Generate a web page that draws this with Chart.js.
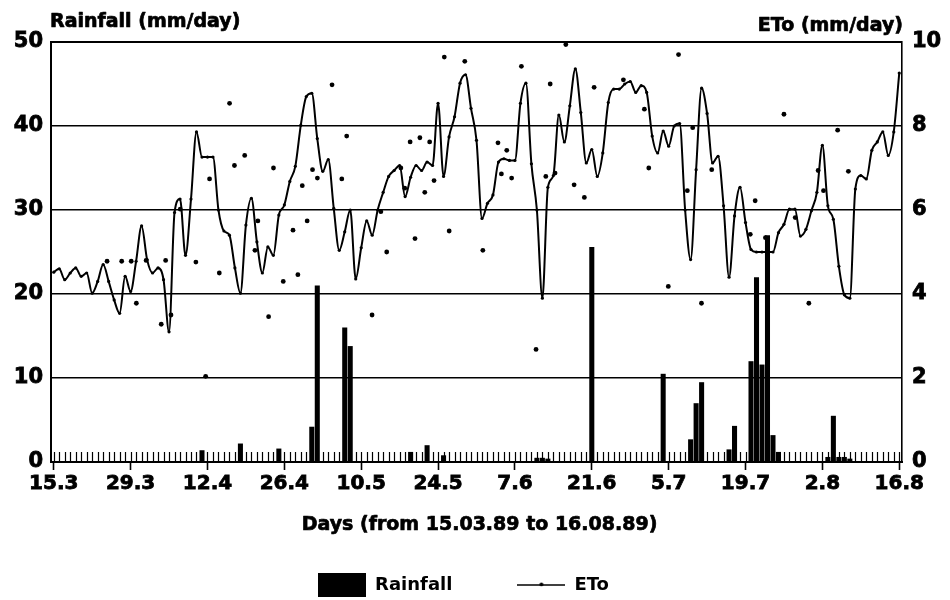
<!DOCTYPE html>
<html>
<head>
<meta charset="utf-8">
<title>Rainfall and ETo, 15.03.89 to 16.08.89</title>
<script src="https://cdn.jsdelivr.net/npm/chart.js@4.4.1/dist/chart.umd.min.js"></script>
<style>
  html, body { margin: 0; padding: 0; background: #ffffff; overflow: hidden; }
  canvas { display: block; }
</style>
</head>
<body>
<canvas id="chart" width="950" height="600"></canvas>
<script>
// Daily rainfall (mm/day, left axis) and reference evapotranspiration
// ETo (mm/day, right axis), 155 days from 15 March to 16 August 1989.

const dayCount = 155;

// x-axis tick labels, one every 14 days
const tickLabels = ['15.3', '29.3', '12.4', '26.4', '10.5', '24.5', '7.6', '21.6', '5.7', '19.7', '2.8', '16.8'];
const tickEvery = 14;

// rainy days: day number (0 = 15.3) and rainfall in mm
const rainDays = [27, 34, 41, 47, 48, 53, 54, 65, 68, 71, 88, 89, 90, 98, 111, 116, 117, 118, 123, 124, 127, 128, 129, 130, 131, 132, 141, 142, 143, 144, 145];
const rainMm   = [1.4, 2.2, 1.6, 4.2, 21.0, 16.0, 13.8, 1.2, 2.0, 0.8, 0.5, 0.5, 0.4, 25.6, 10.5, 2.7, 7.0, 9.5, 1.5, 4.3, 12.0, 22.0, 11.6, 27.0, 3.2, 1.2, 0.6, 5.5, 0.6, 0.6, 0.4];

// ETo curve, one value per day (mm/day)
const etoDaily = [
  4.52, 4.60, 4.34, 4.50, 4.62, 4.42, 4.50, 4.02, 4.30, 4.70,
  4.30, 3.86, 3.54, 4.42, 4.06, 4.78, 5.62, 4.82, 4.50, 4.62,
  4.34, 3.10, 5.94, 6.26, 4.92, 6.26, 7.86, 7.26, 7.26, 7.26,
  6.00, 5.50, 5.40, 4.62, 4.02, 5.64, 6.28, 5.24, 4.50, 5.12,
  4.92, 5.88, 6.12, 6.68, 7.04, 8.02, 8.70, 8.78, 7.70, 6.92,
  7.20, 6.04, 5.04, 5.48, 6.00, 4.36, 5.10, 5.74, 5.40, 6.00,
  6.42, 6.80, 6.94, 7.06, 6.32, 6.78, 7.06, 6.94, 7.14, 7.06,
  8.54, 6.80, 7.74, 8.22, 9.02, 9.22, 8.42, 7.66, 5.80, 6.16,
  6.36, 7.14, 7.22, 7.18, 7.18, 8.54, 9.02, 7.10, 6.00, 3.90,
  6.54, 6.82, 8.26, 7.62, 8.48, 9.36, 8.32, 7.12, 7.44, 6.80,
  7.36, 8.56, 8.88, 8.88, 9.00, 9.06, 8.80, 8.96, 8.80, 7.76,
  7.36, 7.88, 7.52, 8.00, 8.06, 6.00, 4.82, 6.96, 8.90, 8.30,
  7.12, 7.28, 6.10, 4.40, 5.86, 6.54, 5.70, 5.06, 5.00, 5.00,
  5.00, 5.00, 5.46, 5.66, 6.02, 6.02, 5.38, 5.54, 5.98, 6.42,
  7.54, 6.10, 5.78, 4.66, 3.98, 3.90, 6.50, 6.82, 6.74, 7.42,
  7.62, 7.86, 7.30, 7.86, 9.26
];

// single ETo readings shown as loose dots: day position and value (mm/day)
const readingDay = [
  1.3, 4.3, 6.25, 7.3, 9.3, 12.4, 13.3, 14.4, 16.3, 19.5,
  21.5, 22.3, 24.3, 26.4, 27.4, 29.5, 31.6, 32.2, 34.4, 35.4,
  37.4, 39.4, 40.4, 41.3, 42.3, 43.4, 44.4, 47.4, 49.4, 50.4,
  55.6, 57.4, 58.6, 61.5, 62.3, 63.4, 64.4, 65.4, 66.4, 67.4,
  68.3, 70.4, 71.4, 74.6, 78.3, 81.4, 82.1, 83.2, 84.2, 86.2,
  89.2, 91.2, 92.1, 93.1, 95.3, 97.0, 99.1, 101.1, 107.1, 111.4,
  112.3, 116.3, 118.4, 120.2, 121.3, 123.1, 125.2, 133.1, 134.1, 136.2,
  140.0, 142.3, 145.1, 147.0, 148.1, 151.0, 153.2
];
const readingEto = [
  4.78, 4.78, 4.78, 3.78, 4.80, 3.28, 4.80, 3.50, 6.02, 4.76,
  2.04, 6.74, 4.50, 8.54, 7.06, 7.30, 5.04, 5.74, 3.46, 7.00,
  4.30, 5.52, 4.46, 6.58, 5.74, 6.96, 6.76, 8.98, 6.74, 7.76,
  3.50, 5.96, 5.00, 7.00, 6.52, 7.62, 5.32, 7.72, 6.42, 7.62,
  6.70, 9.64, 5.50, 9.54, 5.04, 7.60, 6.86, 7.42, 6.76, 9.42,
  2.68, 6.80, 9.00, 6.88, 9.94, 6.60, 6.30, 8.92, 9.10, 8.40,
  7.00, 4.18, 9.70, 6.46, 7.96, 3.78, 6.96, 5.42, 6.22, 5.34,
  8.28, 5.82, 3.78, 6.94, 6.46, 7.90, 6.92
];

// one category per day, labelled d.m
const categories = [];
for (let i = 0; i < dayCount; i++) {
  const d = new Date(1989, 2, 15 + i);
  categories.push(d.getDate() + '.' + (d.getMonth() + 1));
}

const rainfall = new Array(dayCount).fill(null);
rainDays.forEach((day, k) => { rainfall[day] = rainMm[k]; });

const readings = readingDay.map((day, k) => ({ x: day, y: readingEto[k] }));

const FONT = '"DejaVu Sans", "Liberation Sans", sans-serif';
const INK = '#000000';

// legend symbols: a filled block for rainfall, a marked line for ETo
const rainSwatch = document.createElement('canvas');
rainSwatch.width = 48;
rainSwatch.height = 24;
(() => {
  const c = rainSwatch.getContext('2d');
  c.fillStyle = INK;
  c.fillRect(0, 0, 48, 24);
})();

const etoSwatch = document.createElement('canvas');
etoSwatch.width = 48;
etoSwatch.height = 8;
(() => {
  const c = etoSwatch.getContext('2d');
  c.strokeStyle = INK;
  c.fillStyle = INK;
  c.lineWidth = 1.6;
  c.beginPath();
  c.moveTo(0, 4);
  c.lineTo(48, 4);
  c.stroke();
  c.beginPath();
  c.arc(24, 3.4, 1.9, 0, Math.PI * 2);
  c.fill();
})();

// heavy caption text: fill plus a thin outline
function heavyText(ctx, text, x, y) {
  ctx.fillText(text, x, y);
  ctx.strokeText(text, x, y);
}

// daily tick marks along the baseline and the axis captions
const axisDecor = {
  id: 'axisDecor',
  beforeDatasetsDraw(chart) {
    const { ctx, chartArea } = chart;
    const x = chart.scales.x;
    ctx.save();
    ctx.strokeStyle = INK;
    ctx.lineWidth = 1.2;
    ctx.beginPath();
    for (let i = 0; i < categories.length; i++) {
      const px = Math.round(x.getPixelForValue(i)) + 0.5;
      ctx.moveTo(px, chartArea.bottom);
      ctx.lineTo(px, chartArea.bottom - 10);
    }
    ctx.stroke();
    ctx.restore();
  },
  afterDraw(chart) {
    const { ctx, chartArea } = chart;
    ctx.save();
    ctx.fillStyle = INK;
    ctx.strokeStyle = INK;
    ctx.lineWidth = 0.7;
    ctx.lineJoin = 'round';
    ctx.font = 'bold 19px ' + FONT;
    ctx.textBaseline = 'alphabetic';
    ctx.textAlign = 'left';
    heavyText(ctx, 'Rainfall (mm/day)', chartArea.left - 1, chartArea.top - 15);
    ctx.textAlign = 'right';
    heavyText(ctx, 'ETo (mm/day)', chartArea.right + 1, chartArea.top - 11);
    ctx.textAlign = 'center';
    heavyText(ctx, 'Days (from 15.03.89 to 16.08.89)', (chartArea.left + chartArea.right) / 2 + 3, chartArea.bottom + 68);
    ctx.restore();
  }
};

Chart.defaults.font.family = FONT;
Chart.defaults.font.weight = 'bold';
Chart.defaults.color = INK;

new Chart(document.getElementById('chart'), {
  type: 'bar',
  data: {
    labels: categories,
    datasets: [
      {
        type: 'bar',
        label: 'Rainfall',
        data: rainfall,
        xAxisID: 'x',
        yAxisID: 'y',
        backgroundColor: INK,
        borderWidth: 0,
        grouped: false,
        barPercentage: 0.92,
        categoryPercentage: 1.0,
        order: 3
      },
      {
        type: 'line',
        label: 'ETo',
        data: etoDaily,
        xAxisID: 'x',
        yAxisID: 'y2',
        borderColor: INK,
        backgroundColor: INK,
        borderWidth: 2,
        cubicInterpolationMode: 'monotone',
        pointRadius: 1.6,
        pointBorderWidth: 0,
        pointBackgroundColor: INK,
        fill: false,
        order: 1
      },
      {
        type: 'scatter',
        label: 'ETo readings',
        data: readings,
        xAxisID: 'xd',
        yAxisID: 'y2',
        showLine: false,
        pointRadius: 2.4,
        pointBorderWidth: 0,
        pointBackgroundColor: INK,
        order: 2
      }
    ]
  },
  plugins: [axisDecor],
  options: {
    responsive: false,
    animation: false,
    devicePixelRatio: 1,
    layout: { padding: { top: 42, right: 0, bottom: -4, left: -23 } },
    scales: {
      x: {
        type: 'category',
        offset: true,
        grid: {
          offset: false,
          drawOnChartArea: false,
          drawTicks: true,
          tickLength: 8,
          tickWidth: 1.6,
          color: (c) => (c.index % tickEvery === 0 ? INK : 'rgba(0,0,0,0)')
        },
        border: { display: true, color: INK, width: 2 },
        ticks: {
          autoSkip: false,
          maxRotation: 0,
          minRotation: 0,
          padding: 2,
          font: { size: 20, weight: 'bold' },
          color: INK,
          textStrokeColor: INK,
          textStrokeWidth: 0.8,
          callback: (value, index) => (index % tickEvery === 0 ? tickLabels[index / tickEvery] : '')
        },
        afterFit: (scale) => { scale.height = 49; }
      },
      xd: {
        type: 'linear',
        display: false,
        min: -0.5,
        max: dayCount - 0.5
      },
      y: {
        position: 'left',
        min: 0,
        max: 50,
        ticks: {
          stepSize: 10, padding: 8, font: { size: 21, weight: 'bold' }, color: INK,
          textStrokeColor: INK, textStrokeWidth: 0.8
        },
        grid: {
          color: INK,
          lineWidth: (c) => (c.tick && c.tick.value === 50 ? 2 : 1.5),
          drawTicks: false
        },
        border: { display: true, color: INK, width: 2 },
        afterFit: (scale) => { scale.width = 74; }
      },
      y2: {
        position: 'right',
        min: 0,
        max: 10,
        ticks: {
          stepSize: 2, padding: 10, font: { size: 21, weight: 'bold' }, color: INK,
          textStrokeColor: INK, textStrokeWidth: 0.8
        },
        grid: { drawOnChartArea: false, drawTicks: false },
        border: { display: true, color: INK, width: 1.6 },
        afterFit: (scale) => { scale.width = 48; }
      }
    },
    plugins: {
      tooltip: { enabled: false },
      legend: {
        display: true,
        position: 'bottom',
        labels: {
          usePointStyle: true,
          pointStyleWidth: 48,
          boxHeight: 18,
          padding: 65,
          color: INK,
          font: { size: 18, weight: 'bold' },
          generateLabels(chart) {
            const items = Chart.defaults.plugins.legend.labels.generateLabels(chart);
            return items
              .filter((it) => it.datasetIndex !== 2)
              .sort((a, b) => a.datasetIndex - b.datasetIndex)
              .map((it) => {
                it.pointStyle = it.datasetIndex === 0 ? rainSwatch : etoSwatch;
                return it;
              });
          }
        }
      }
    }
  }
});
</script>
</body>
</html>
